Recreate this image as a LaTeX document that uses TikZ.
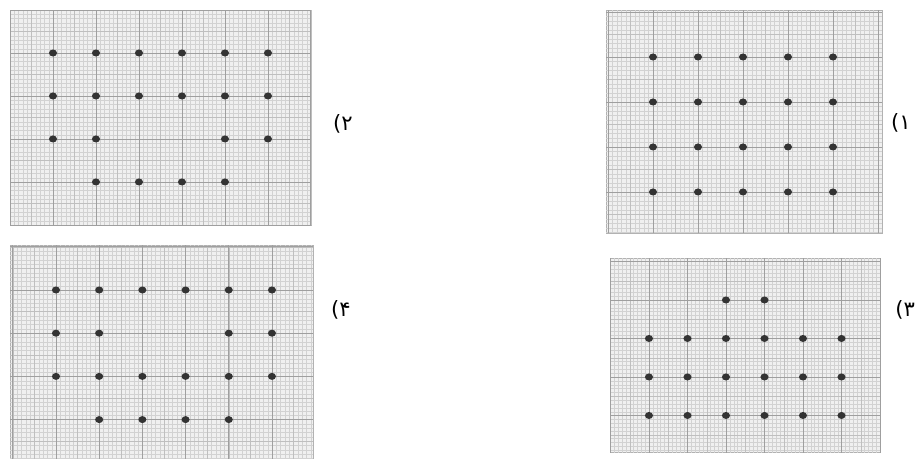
\documentclass[tikz,border=0pt]{standalone}
\usepackage{fontspec}
\newfontfamily\farsifont[Script=Arabic]{DejaVu Sans}
\begin{document}
\begin{tikzpicture}[x=0.02cm, y=-0.02cm,
    paper/.style ={fill=gray!12, draw=gray!60, line width=0.4pt},
    fine/.style  ={draw=gray!35, line width=0.15pt},
    half/.style  ={draw=gray!50, line width=0.25pt},
    major/.style ={draw=gray!75, line width=0.5pt},
    dot/.style   ={fill=black!80},
    lbl/.style   ={font=\farsifont\fontsize{12}{14}\selectfont, inner sep=0pt},
  ]
  \useasboundingbox (0,0) rectangle (915,459);

  % panel 2 (top left)
  \begin{scope}[shift={(53,53)}, x=0.86cm, y=0.86cm]
    \path[paper] (-1,1) rectangle (6,-4);
    \draw[fine, step=0.1] (-1,-4) grid (6,1);
    \draw[half, step=0.5] (-1,-4) grid (6,1);
    \draw[major, step=1] (-1,-4) grid (6,1);
    \foreach \j/\cols in {0/{0,1,2,3,4,5}, 1/{0,1,2,3,4,5}, 2/{0,1,4,5}, 3/{1,2,3,4}}
      \foreach \i in \cols \fill[dot] (\i,-\j) ellipse (2.3pt and 2pt);
  \end{scope}
  \node[lbl] (l2) at (343,124) {۲)};

  % panel 4 (bottom left)
  \begin{scope}[shift={(56,290)}, x=0.864cm, y=0.864cm]
    \path[paper] (-1.06,1.04) rectangle (5.95,-3.95);
    \draw[fine, step=0.1] (-1.06,-3.95) grid (5.95,1.04);
    \draw[half, step=0.5] (-1.06,-3.95) grid (5.95,1.04);
    \draw[major, step=1] (-1.06,-3.95) grid (5.95,1.04);
    \foreach \j/\cols in {0/{0,1,2,3,4,5}, 1/{0,1,4,5}, 2/{0,1,2,3,4,5}, 3/{1,2,3,4}}
      \foreach \i in \cols \fill[dot] (\i,-\j) ellipse (2.3pt and 2pt);
  \end{scope}
  \node[lbl] (l4) at (341,310) {۴)};

  % panel 1 (top right)
  \begin{scope}[shift={(653,57)}, x=0.9cm, y=0.9cm]
    \path[paper] (-1.04,1.04) rectangle (5.09,-3.91);
    \draw[fine, step=0.1] (-1.04,-3.91) grid (5.09,1.04);
    \draw[half, step=0.5] (-1.04,-3.91) grid (5.09,1.04);
    \draw[major, step=1] (-1.04,-3.91) grid (5.09,1.04);
    \foreach \j in {0,...,3}
      \foreach \i in {0,...,4} \fill[dot] (\i,-\j) ellipse (2.3pt and 2pt);
  \end{scope}
  \node[lbl] (l1) at (901,123) {۱)};

  % panel 3 (bottom right)
  \begin{scope}[shift={(649,300)}, x=0.77cm, y=0.77cm]
    \path[paper] (-1.01,1.09) rectangle (6.0,-3.97);
    \draw[fine, step=0.1] (-1.01,-3.97) grid (6.0,1.09);
    \draw[half, step=0.5] (-1.01,-3.97) grid (6.0,1.09);
    \draw[major, step=1] (-1.01,-3.97) grid (6.0,1.09);
    \foreach \j/\cols in {0/{2,3}, 1/{0,1,2,3,4,5}, 2/{0,1,2,3,4,5}, 3/{0,1,2,3,4,5}}
      \foreach \i in \cols \fill[dot] (\i,-\j) ellipse (2.3pt and 2pt);
  \end{scope}
  \node[lbl, anchor=west] (l3) at (895,310) {۳)};
\end{tikzpicture}
\end{document}
